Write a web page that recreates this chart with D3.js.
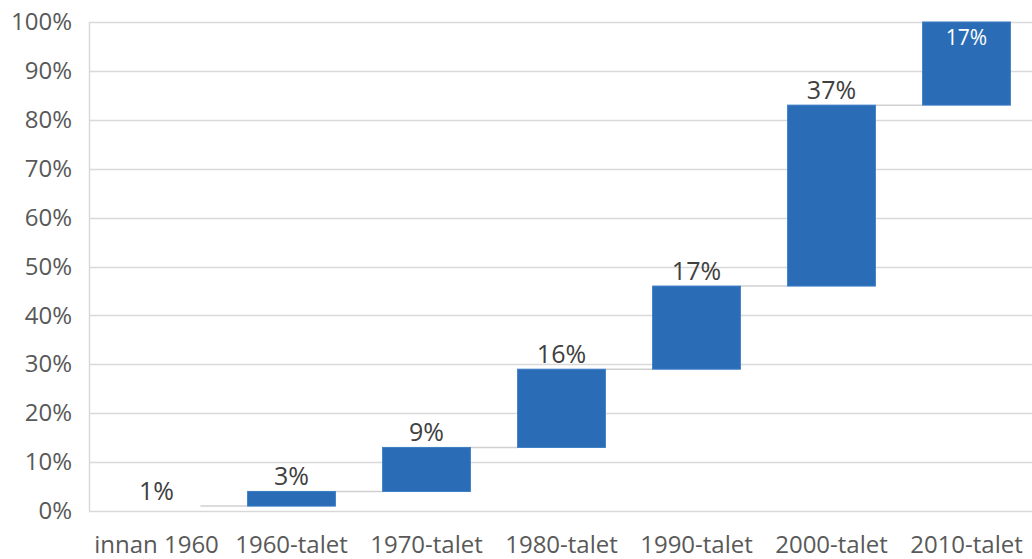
<!DOCTYPE html>
<html>
<head>
<meta charset="utf-8">
<script src="https://cdn.jsdelivr.net/npm/d3@7"></script>
<style>
  html, body { margin: 0; padding: 0; background: #fff; }
  svg { display: block; }
  text { font-family: "Open Sans", "Noto Sans", sans-serif; }
</style>
</head>
<body>
<svg id="chart" width="1032" height="559"></svg>
<script>
// Andel per byggperiod (vattenfall, summerar till 100 %)
const categories = ["innan 1960", "1960-talet", "1970-talet", "1980-talet", "1990-talet", "2000-talet", "2010-talet"];
const shares = [1, 3, 9, 16, 17, 37, 17];
const yTicks = [0, 10, 20, 30, 40, 50, 60, 70, 80, 90, 100];

// cumulative start/end for each step
let acc = 0;
const steps = categories.map((c, i) => {
  const start = acc;
  acc += shares[i];
  return { cat: c, value: shares[i], start, end: acc, i };
});

const svg = d3.select("#chart");
const margin = { left: 89, right: 0, top: 22, bottom: 48 };
const W = 1032, H = 559;

const x = d3.scaleBand()
  .domain(categories)
  .range([margin.left, margin.left + 7 * 135])
  .paddingInner(0.35)
  .paddingOuter(0.175);

const y = d3.scaleLinear().domain([0, 100]).range([511, 22]);

// gridlines
svg.append("g")
  .selectAll("line")
  .data(yTicks)
  .join("line")
  .attr("x1", margin.left)
  .attr("x2", W)
  .attr("y1", d => Math.round(y(d)) + 0.5)
  .attr("y2", d => Math.round(y(d)) + 0.5)
  .attr("stroke", "#d9d9d9")
  .attr("stroke-width", 1.5);

// vertical axis line
svg.append("line")
  .attr("x1", margin.left + 0.5).attr("x2", margin.left + 0.5)
  .attr("y1", y(100)).attr("y2", y(0))
  .attr("stroke", "#d9d9d9").attr("stroke-width", 1.5);

// y tick labels
const yAxis = d3.axisLeft(y).tickValues(yTicks).tickFormat(d => d + "%").tickSize(0).tickPadding(17);
const gy = svg.append("g").attr("transform", `translate(${margin.left},0)`).call(yAxis);
gy.select(".domain").remove();
gy.selectAll("text")
  .attr("font-size", 24)
  .attr("fill", "#595959")
  .style("font-family", '"Open Sans", "Noto Sans", sans-serif');

// x labels
const xAxis = d3.axisBottom(x).tickSize(0).tickPadding(0);
const gx = svg.append("g").attr("transform", `translate(0,${y(0)})`).call(xAxis);
gx.select(".domain").remove();
gx.selectAll("text")
  .attr("dy", null)
  .attr("y", 42)
  .attr("font-size", 24)
  .attr("fill", "#595959")
  .style("font-family", '"Open Sans", "Noto Sans", sans-serif');

// connector lines between consecutive steps
svg.append("g")
  .selectAll("line")
  .data(steps.slice(0, -1))
  .join("line")
  .attr("x1", d => x(d.cat) + x.bandwidth())
  .attr("x2", d => x(categories[d.i + 1]))
  .attr("y1", d => y(d.end))
  .attr("y2", d => y(d.end))
  .attr("stroke", "#d0d0d0")
  .attr("stroke-width", 1.5);

// bars (the first step is drawn without fill)
svg.append("g")
  .selectAll("rect")
  .data(steps)
  .join("rect")
  .attr("x", d => x(d.cat))
  .attr("width", x.bandwidth())
  .attr("y", d => y(d.end))
  .attr("height", d => y(d.start) - y(d.end))
  .attr("fill", d => d.i === 0 ? "none" : "#2a6db6")
  .attr("stroke", d => d.i === 0 ? "none" : "#3a7cc4")
  .attr("stroke-width", 1);

// value labels
svg.append("g")
  .selectAll("text")
  .data(steps)
  .join("text")
  .attr("x", d => x(d.cat) + x.bandwidth() / 2)
  .attr("y", d => d.end >= 100 ? y(d.end) + 23 : y(d.end) - 6)
  .attr("text-anchor", "middle")
  .attr("font-size", d => d.end >= 100 ? 21 : 25)
  .attr("fill", d => d.end >= 100 ? "#ffffff" : "#404040")
  .text(d => d.value + "%");
</script>
</body>
</html>
